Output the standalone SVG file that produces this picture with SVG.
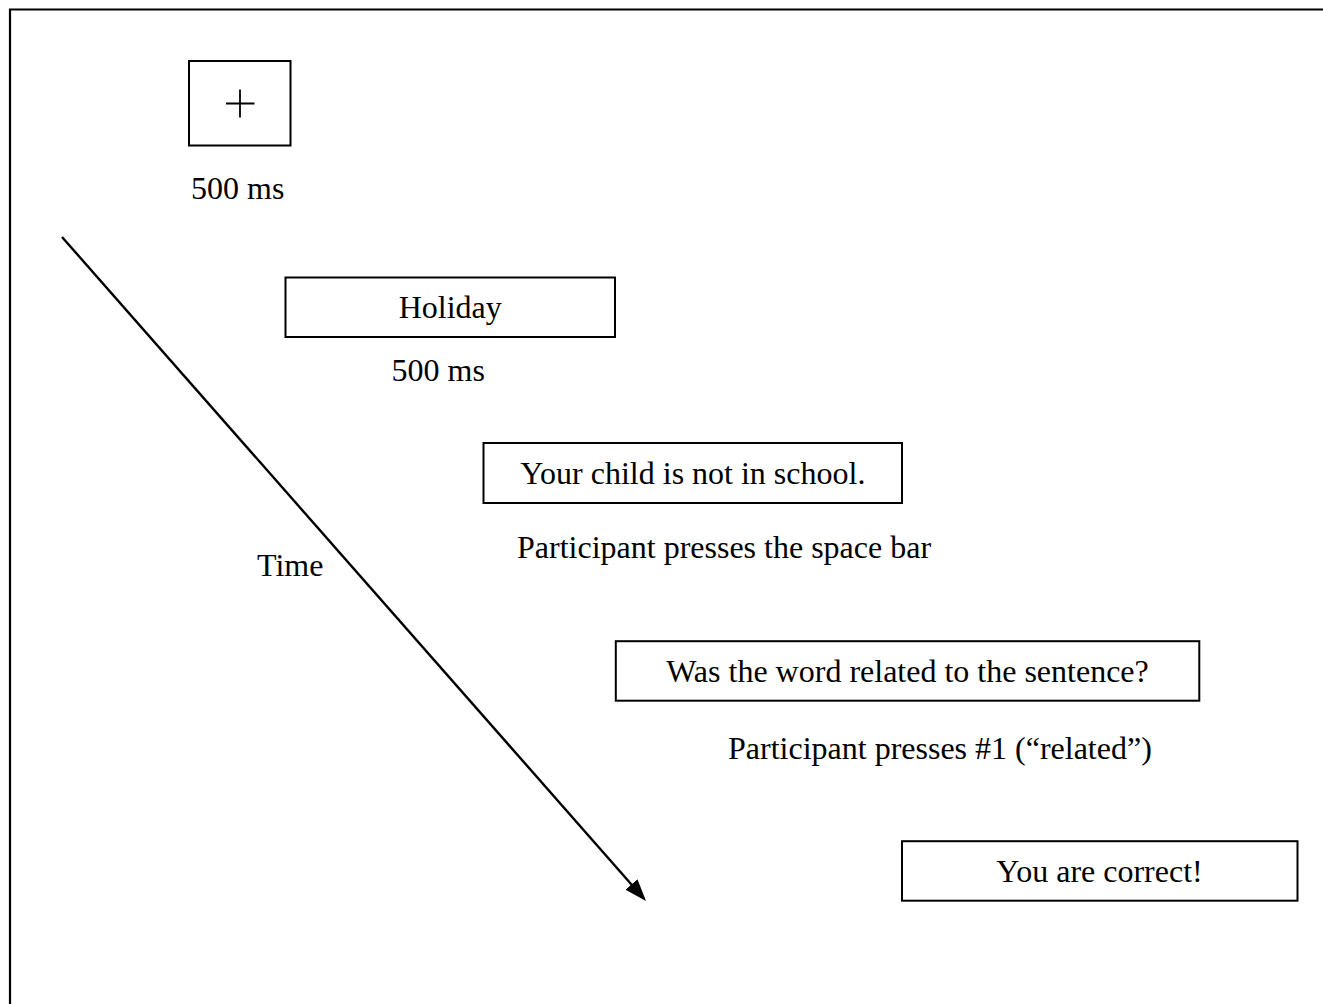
<svg xmlns="http://www.w3.org/2000/svg" width="1323" height="1004" viewBox="0 0 1323 1004">
<style>
  text { font-family: "Liberation Serif", "Times New Roman", serif; font-size: 32px; fill: #000; }
  .c { text-anchor: middle; }
  .box { fill: #fff; stroke: #000; stroke-width: 2; }
  .frame { fill: none; stroke: #000; stroke-width: 2.2; }
  .conn { stroke: #000; stroke-width: 2.4; fill: none; }
</style>
<defs>
  <marker id="arrow" viewBox="0 0 22 16" refX="19" refY="8" markerWidth="22" markerHeight="16" markerUnits="userSpaceOnUse" orient="auto">
    <path d="M0,0 L22,8 L0,16 z" fill="#000"/>
  </marker>
</defs>
<rect width="1323" height="1004" fill="#fff"/>
<path class="frame" d="M10,1004 V9.5 H1323"/>

<g id="fixation">
  <rect class="box" x="189" y="61" width="101.5" height="84.5"/>
  <path d="M226,103.5 H254.5 M240,89.5 V117.5" stroke="#000" stroke-width="1.8"/>
  <text x="191" y="198.5">500 ms</text>
</g>

<g id="prime">
  <rect class="box" x="285.5" y="277.5" width="329.5" height="59.5"/>
  <text class="c" x="450.2" y="318">Holiday</text>
  <text x="391.5" y="380.5">500 ms</text>
</g>

<g id="sentence">
  <rect class="box" x="483.5" y="443" width="418.5" height="60"/>
  <text class="c" x="692.8" y="484">Your child is not in school.</text>
  <text x="517" y="557.5">Participant presses the space bar</text>
</g>

<g id="question">
  <rect class="box" x="615.8" y="641.2" width="583.5" height="59.5"/>
  <text class="c" x="907.5" y="682">Was the word related to the sentence?</text>
  <text x="728" y="758.5">Participant presses #1 (“related”)</text>
</g>

<g id="feedback">
  <rect class="box" x="902" y="841.2" width="395.5" height="59.5"/>
  <text class="c" x="1099.5" y="882">You are correct!</text>
</g>

<g id="connectors">
  <line class="conn" x1="62" y1="237" x2="644" y2="898.7" marker-end="url(#arrow)"/>
  <text x="257" y="575.5">Time</text>
</g>
</svg>
